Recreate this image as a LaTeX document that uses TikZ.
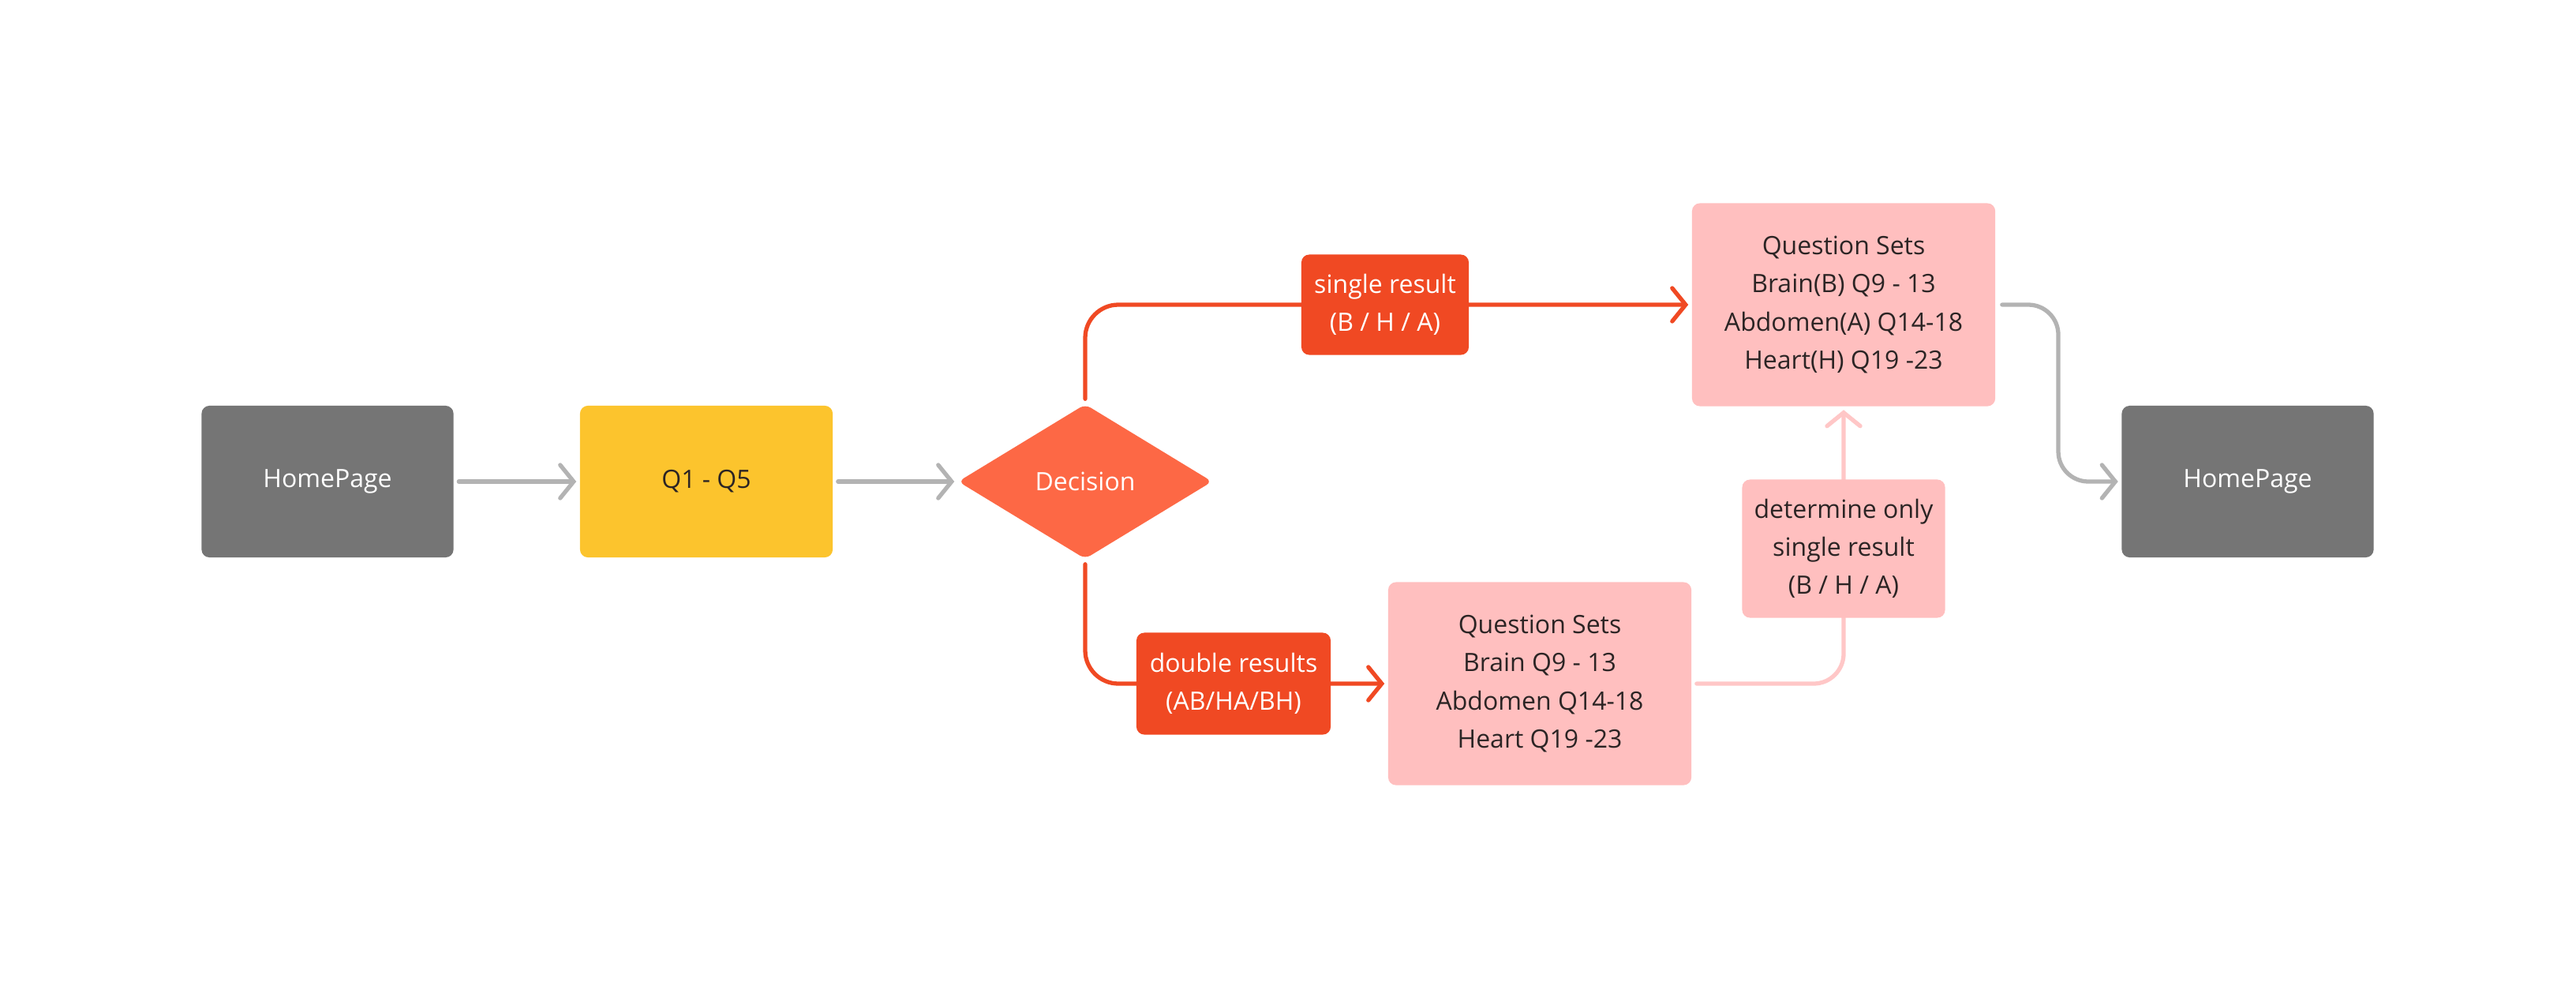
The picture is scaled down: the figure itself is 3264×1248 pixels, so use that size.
\documentclass[tikz,border=0pt]{standalone}
\usepackage{fontspec}
\setmainfont{Open Sans}
\usetikzlibrary{arrows.meta,shapes.geometric,calc}
\definecolor{boxgray}{HTML}{757575}
\definecolor{boxyellow}{HTML}{FCC42D}
\definecolor{diaorange}{HTML}{FD6845}
\definecolor{labred}{HTML}{F04923}
\definecolor{boxpink}{HTML}{FFBFBF}
\definecolor{arrgray}{HTML}{B3B3B3}
\definecolor{linepink}{HTML}{FFC7C7}
\definecolor{txtdark}{HTML}{2B2424}
\tikzset{
  base/.style={rounded corners=0.1cm, inner sep=0pt, align=center,
    font=\fontsize{9.1pt}{13.7pt}\selectfont},
  graybox/.style={base, fill=boxgray, text=white, minimum width=3.19cm, minimum height=1.92cm},
  yellowbox/.style={base, fill=boxyellow, text=txtdark, minimum width=3.2cm, minimum height=1.92cm},
  pinkbox/.style={base, fill=boxpink, text=txtdark, minimum width=3.84cm, minimum height=2.57cm},
  redlab/.style={base, fill=labred, text=white},
  pinklab/.style={base, fill=boxpink, text=txtdark},
  decide/.style={diamond, fill=diaorange, text=white, inner sep=0pt, rounded corners=0.08cm,
    minimum width=3.22cm, minimum height=1.96cm, font=\fontsize{9.1pt}{13.7pt}\selectfont},
  conn/.style={line width=1.5pt, line cap=round,
    -{Straight Barb[length=0.17cm, width=0.42cm, line cap=round]}, shorten >=0.04cm},
  grayconn/.style={conn, draw=arrgray},
  redconn/.style={conn, draw=labred},
  pinkconn/.style={conn, draw=linepink}
}
\begin{document}
\begin{tikzpicture}[x=0.01cm, y=-0.01cm]
\useasboundingbox[fill=white] (0,0) rectangle (3264,1248);

\node[graybox] (hp1) at (415,610) {HomePage};
\node[yellowbox] (q) at (895,610) {Q1 - Q5};
\node[decide] (dec) at (1375,610) {Decision};
\node[pinkbox] (qs1) at (2336,386) {Question Sets\\Brain(B) Q9 - 13\\Abdomen(A) Q14-18\\Heart(H) Q19 -23};
\node[pinkbox] (qs2) at (1951,866) {Question Sets\\Brain Q9 - 13\\Abdomen Q14-18\\Heart Q19 -23};
\node[graybox] (hp2) at (2848,610) {HomePage};
\coordinate (gx) at (2608,386);

\draw[grayconn, shorten <=0.06cm] (hp1.east) -- (q.west);
\draw[grayconn, shorten <=0.06cm] (q.east) -- (dec.west);
\draw[redconn, rounded corners=0.42cm, shorten <=0.06cm] (dec.north) |- (qs1.west);
\draw[redconn, rounded corners=0.42cm, shorten <=0.06cm] (dec.south) |- (qs2.west);
\draw[grayconn, rounded corners=0.38cm, shorten <=0.08cm] (qs1.east) -- (gx) |- (hp2.west);
\draw[pinkconn, rounded corners=0.38cm, shorten <=0.06cm] (qs2.east) -| (qs1.south);

\node[redlab, minimum width=2.12cm, minimum height=1.27cm] (l1) at (1755,386) {single result\\(B / H / A)};
\node[redlab, minimum width=2.46cm, minimum height=1.29cm] (l2) at (1563,866) {double results\\(AB/HA/BH)};
\node[pinklab, minimum width=2.57cm, minimum height=1.75cm] (l3) at (2336,695) {determine only\\single result\\(B / H / A)};
\end{tikzpicture}
\end{document}
